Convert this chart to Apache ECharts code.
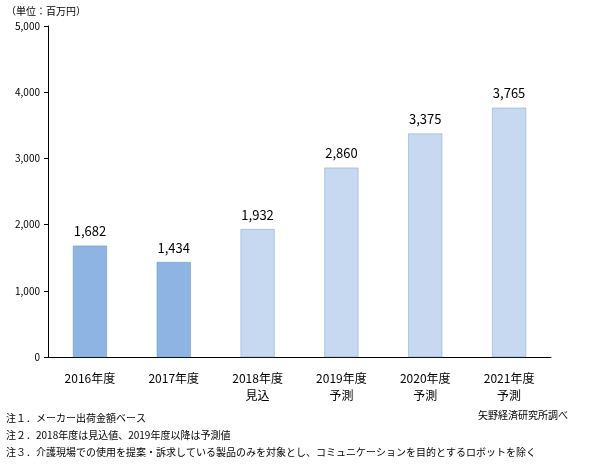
<!DOCTYPE html><html><head><meta charset="utf-8"><script src="https://cdn.jsdelivr.net/npm/echarts@6/dist/echarts.min.js"></script></head><body style="margin:0"><div id="c" style="width:590px;height:468px"></div><script>
const categories=['2016年度','2017年度','2018年度\n見込','2019年度\n予測','2020年度\n予測','2021年度\n予測'];
const values=[1682,1434,1932,2860,3375,3765];
const actualCount=2;
const notes=['注１．メーカー出荷金額ベース','注２．2018年度は見込値、2019年度以降は予測値','注３．介護現場での使用を提案・訴求している製品のみを対象とし、コミュニケーションを目的とするロボットを除く'];
const F='"Noto Sans CJK JP", sans-serif';
const ch=echarts.init(document.getElementById('c'));
ch.setOption({
 animation:false,
 grid:{left:48,right:39,top:26,bottom:111},
 xAxis:{type:'category',data:categories,axisLine:{lineStyle:{color:'#000'}},axisTick:{show:false},
  axisLabel:{color:'#000',fontSize:12,fontFamily:F,lineHeight:17,margin:13}},
 yAxis:{type:'value',min:0,max:5000,interval:1000,axisLine:{show:true,lineStyle:{color:'#000'}},
  axisTick:{show:true,inside:false,length:4,lineStyle:{color:'#000'}},splitLine:{show:false},
  axisLabel:{color:'#000',fontSize:10,fontFamily:F,formatter:v=>v.toLocaleString('en-US')}},
 series:[{type:'bar',barWidth:34,data:values.map((v,i)=>({value:v,itemStyle:i<actualCount?{color:'#8DB4E2',borderColor:'#5B8FCB',borderWidth:0.5}:{color:'#C6D9F1',borderColor:'#7FA3CF',borderWidth:0.5}})),
  label:{show:true,position:'top',distance:8,color:'#000',fontSize:13,fontFamily:F,formatter:p=>p.value.toLocaleString('en-US')}}],
 graphic:[
  {type:'text',left:6,top:6,style:{text:'（単位：百万円）',fontSize:10,fontFamily:F,fill:'#000'}},
  {type:'text',left:6,top:410,style:{text:notes.join('\n'),fontSize:10,lineHeight:17,fontFamily:F,fill:'#000'}},
  {type:'text',left:478,top:410,style:{text:'矢野経済研究所調べ',fontSize:10,fontFamily:F,fill:'#000'}}
 ]
});
</script></body></html>
